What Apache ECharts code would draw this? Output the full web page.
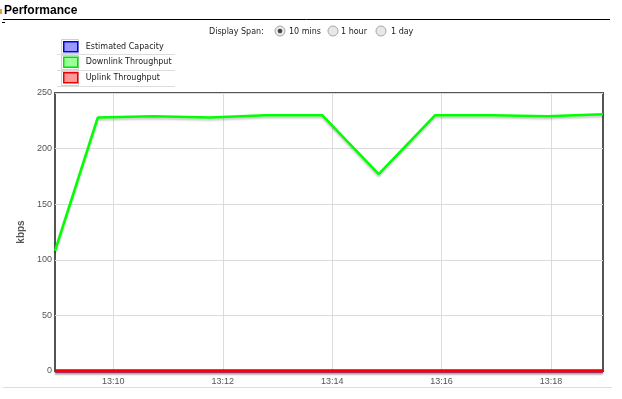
<!DOCTYPE html>
<html>
<head>
<meta charset="utf-8">
<script src="https://cdn.jsdelivr.net/npm/echarts@6/dist/echarts.min.js"></script>
<style>
html,body{margin:0;padding:0;background:#fff;}
#chart{width:622px;height:399px;}
</style>
</head>
<body>
<div id="chart"></div>
<script>
// ---- data ----
const times = ['13:08:56','13:09:43','13:10:44','13:11:46','13:12:47','13:13:49','13:14:51','13:15:53','13:16:55','13:17:56','13:18:57'];
const capacity = [0,0,0,0,0,0,0,0,0,0,0];
const downlink = [108,228,229,228,230,230,177,230,230,229,231];
const uplink = [0,0,0,0,0,0,0,0,0,0,0];
const seriesNames = ['Estimated Capacity','Downlink Throughput','Uplink Throughput'];
const xTickTimes = ['13:10:00','13:12:00','13:14:00','13:16:00','13:18:00'];
const spanOptions = ['10 mins','1 hour','1 day'];
const yMax = 250, yStep = 50;

function toMs(t){const p=t.split(':').map(Number);return Date.UTC(2024,0,1,p[0],p[1],p[2]);}
const xs = times.map(toMs);
const xTicks = xTickTimes.map(toMs);
const pairs = arr => arr.map((v,i)=>[xs[i],v]);

const chart = echarts.init(document.getElementById('chart'), null, {renderer:'canvas'});
const shadow = {shadowColor:'rgba(0,0,0,0.22)', shadowBlur:2, shadowOffsetY:2};
const lineFont = 'DejaVu Sans';

const radioX = [280,333,381];
const radioLabelX = [289,341,391];
const graphics = [
  {type:'rect', shape:{x:0,y:9,width:2,height:5}, style:{fill:'#f0a030'}},
  {type:'text', left:4, top:5, style:{text:'Performance', font:'bold 12px "Liberation Sans"', fill:'#000'}},
  {type:'line', shape:{x1:3,y1:19.5,x2:610,y2:19.5}, style:{stroke:'#000',lineWidth:1}},
  {type:'line', shape:{x1:2,y1:22.5,x2:5,y2:22.5}, style:{stroke:'#000',lineWidth:1}},
  {type:'text', left:209, top:28, style:{text:'Display Span:', font:'8px "DejaVu Sans"', fill:'#222'}},
  {type:'line', shape:{x1:3,y1:387.5,x2:612,y2:387.5}, style:{stroke:'#ddd',lineWidth:1}}
];
spanOptions.forEach((s,i)=>{
  graphics.push({type:'circle', shape:{cx:radioX[i],cy:31,r:5}, style:{fill:'#e8e8e8',stroke:'#a8a8a8',lineWidth:1}});
  if(i===0) graphics.push({type:'circle', shape:{cx:radioX[i],cy:31,r:2.3}, style:{fill:'#444'}});
  graphics.push({type:'text', left:radioLabelX[i], top:28, style:{text:s, font:'8px "DejaVu Sans"', fill:'#222'}});
});
// legend table cells and separators
[0,1,2].forEach(i=>{
  const y0 = 39 + i*16;
  graphics.push({type:'rect', shape:{x:61.5,y:y0+0.5,width:17,height:14}, style:{fill:'none',stroke:'#cfcfcf',lineWidth:1}, z:-1});
  graphics.push({type:'line', shape:{x1:57,y1:y0+15.5,x2:175,y2:y0+15.5}, style:{stroke:'#dcdcdc',lineWidth:1}, z:-1});
});

const option = {
  useUTC: true,
  animation: false,
  backgroundColor:'#fff',
  graphic: graphics,
  legend: {
    orient:'vertical', left:63, top:41, itemWidth:14, itemHeight:10, itemGap:4, padding:0,
    icon:'rect', selectedMode:false,
    textStyle:{fontFamily:lineFont, fontSize:8, color:'#222', padding:[0,0,0,3]},
    data:[
      {name:seriesNames[0], itemStyle:{color:'#9999ff', borderColor:'#0000ee', borderWidth:1.5}},
      {name:seriesNames[1], itemStyle:{color:'#99ff99', borderColor:'#00dd00', borderWidth:1.5}},
      {name:seriesNames[2], itemStyle:{color:'#ff9999', borderColor:'#ee0000', borderWidth:1.5}}
    ]
  },
  grid: {left:55, right:19, top:93, bottom:28, show:true, borderColor:'#545454', borderWidth:2, containLabel:false},
  xAxis: {
    type:'time', min:xs[0], max:xs[xs.length-1],
    axisLine:{show:false},
    axisTick:{show:false, customValues:xTicks},
    splitLine:{show:true, lineStyle:{color:'#dcdcdc', width:1}},
    axisLabel:{customValues:xTicks, formatter:'{HH}:{mm}', color:'#545454', fontSize:9, fontFamily:'Liberation Sans', margin:6, hideOverlap:false}
  },
  yAxis: {
    type:'value', min:0, max:yMax, interval:yStep,
    name:'kbps', nameLocation:'middle', nameGap:29, nameRotate:90,
    nameTextStyle:{fontWeight:'bold', fontSize:10, color:'#545454', fontFamily:'Liberation Sans'},
    axisLine:{show:false}, axisTick:{show:false},
    splitLine:{lineStyle:{color:'#dcdcdc', width:1}},
    axisLabel:{color:'#545454', fontSize:9, fontFamily:'Liberation Sans', margin:3}
  },
  series: [
    {name:seriesNames[0], type:'line', data:pairs(capacity), symbol:'none', clip:false,
     lineStyle:Object.assign({color:'#0000ff', width:3}, shadow), itemStyle:{color:'#0000ff'}},
    {name:seriesNames[1], type:'line', data:pairs(downlink), symbol:'none', clip:false,
     lineStyle:Object.assign({color:'#00ff00', width:2.5}, shadow), itemStyle:{color:'#00ff00'}},
    {name:seriesNames[2], type:'line', data:pairs(uplink), symbol:'none', clip:false,
     lineStyle:Object.assign({color:'#ff0000', width:3}, shadow), itemStyle:{color:'#ff0000'}}
  ]
};
chart.setOption(option);
</script>
</body>
</html>
